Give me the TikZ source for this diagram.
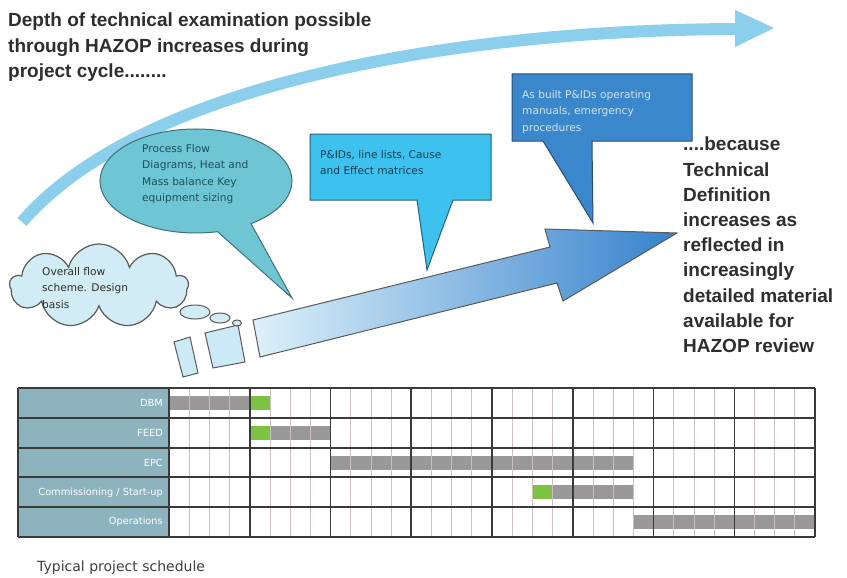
\documentclass[tikz,border=0pt]{standalone}
\usepackage{fontspec}
\setmainfont{Liberation Sans}
\newfontfamily\calloutfont{DejaVu Sans}
\usetikzlibrary{shapes.symbols,shapes.callouts,shapes.geometric}

\definecolor{textgray}{HTML}{2E2E2E}
\definecolor{curveblue}{HTML}{8BCFEC}
\definecolor{cloudfill}{HTML}{D2ECF5}
\definecolor{cloudline}{HTML}{5A5A5A}
\definecolor{pfdfill}{HTML}{6EC5D3}
\definecolor{pfdline}{HTML}{3F6F78}
\definecolor{pfdtext}{HTML}{1E4F5C}
\definecolor{pidfill}{HTML}{3DC2EF}
\definecolor{pidline}{HTML}{2A5F7A}
\definecolor{pidtext}{HTML}{173B4F}
\definecolor{asbfill}{HTML}{3A87CC}
\definecolor{asbline}{HTML}{284E73}
\definecolor{asbtext}{HTML}{D2E4F4}
\definecolor{arrowpale}{HTML}{DDF1FA}
\definecolor{arrowmid}{HTML}{9CCFF0}
\definecolor{arrowdark}{HTML}{3682CC}
\definecolor{stubfill}{HTML}{CBE9F6}
\definecolor{labelfill}{HTML}{8DB3BF}
\definecolor{bargray}{HTML}{9A9898}
\definecolor{bargreen}{HTML}{7DC242}
\definecolor{gridminor}{HTML}{CBC0BD}
\definecolor{gridmajor}{HTML}{3A3A3A}
\definecolor{captiongray}{HTML}{404040}

\begin{document}
\begin{tikzpicture}[x=1pt, y=-1pt,
    headline/.style={anchor=north west, align=left, inner sep=0pt, text=textgray,
        font=\bfseries\fontsize{19}{25.2}\selectfont},
    calltext/.style={anchor=north west, align=left, inner sep=0pt,
        font=\calloutfont\fontsize{10.6}{16.4}\selectfont},
    bubble/.style={ellipse, draw=cloudline, fill=cloudfill, line width=1pt, inner sep=0pt},
    stub/.style={draw=cloudline, fill=stubfill, line width=1pt},
    rowlabel/.style={anchor=east, text=white, inner sep=0pt,
        font=\calloutfont\fontsize{9.8}{11}\selectfont},
    minorline/.style={draw=gridminor, line width=0.8pt},
    majorline/.style={draw=gridmajor, line width=1.6pt},
    rowline/.style={draw=gridmajor, line width=2pt}
]
    \useasboundingbox[fill=white] (0,0) rectangle (847,578);

    % Heading
    \node[headline] (heading) at (8,13) {Depth of technical examination possible\\through HAZOP increases during\\project cycle........};

    % Curved arrow
    \coordinate (curvestart) at (22,222);
    \coordinate (curveend) at (737,29);
    \draw[curveblue, line width=12pt] (curvestart) .. controls (140,85) and (450,30) .. (curveend);
    \fill[curveblue] (735,10) -- (774,28) -- (735,47) -- cycle;

    % Explanation
    \node[headline] (because) at (683,137) {....because\\Technical\\Definition\\increases as\\reflected in\\increasingly\\detailed material\\available for\\HAZOP review};

    % Big arrow and stubs
    \shade[draw=cloudline, line width=1pt, left color=arrowpale, middle color=arrowmid, right color=arrowdark]
        (253,320) -- (550,247) -- (545,229) -- (677,233) -- (563,301) -- (557,283) -- (260,357) -- cycle;
    \draw[stub] (174,342) -- (190,337) -- (198,373) -- (183,377) -- cycle;
    \draw[stub] (205,333) -- (238,325) -- (245,362) -- (213,368) -- cycle;

    % Cloud
    \node[cloud, cloud puffs=9, aspect=2.1, draw=cloudline, fill=cloudfill, line width=1.2pt,
        minimum width=178pt, minimum height=84pt] (basis) at (99,286) {};
    \node[calltext, text=textgray] (basistext) at (42,267) {Overall flow\\scheme. Design\\basis};
    \node[bubble, minimum width=30pt, minimum height=14pt] (bub1) at (195,312) {};
    \node[bubble, minimum width=20pt, minimum height=10pt] (bub2) at (220,318) {};
    \node[bubble, minimum width=9pt, minimum height=6pt] (bub3) at (237,323) {};

    % Ellipse callout
    \node[ellipse callout, draw=pfdline, fill=pfdfill, line width=1pt,
        minimum width=192pt, minimum height=104pt, callout pointer arc=22,
        callout absolute pointer={(292,298)}] (pfd) at (196,181) {};
    \node[calltext, text=pfdtext] (pfdtext) at (142,144) {Process Flow\\Diagrams, Heat and\\Mass balance Key\\equipment sizing};

    % P&ID callout
    \draw[draw=pidline, fill=pidfill, line width=1pt]
        (310,134) -- (491,134) -- (491,200) -- (453,200) -- (427,270) -- (417,200) -- (310,200) -- cycle;
    \node[calltext, text=pidtext] (pidtext) at (320,150) {P\&IDs, line lists, Cause\\and Effect matrices};

    % As built callout
    \draw[draw=asbline, fill=asbfill, line width=1pt]
        (512,74) -- (692,74) -- (692,141) -- (592,141) -- (593,223) -- (543,141) -- (512,141) -- cycle;
    \node[calltext, text=asbtext] (asbtext) at (522,90) {As built P\&IDs operating\\manuals, emergency\\procedures};

    % Schedule
    \fill[labelfill] (18,388) rectangle (169,537);
    \foreach \r/\a/\b in {0/0/4, 1/5/8, 2/8/23, 3/19/23, 4/23/32}
        \fill[bargray] ({169+\a*20.19},{396+\r*29.8}) rectangle ({169+\b*20.19},{410+\r*29.8});
    \foreach \r/\a in {0/4, 1/4, 3/18}
        \fill[bargreen] ({169+\a*20.19},{396+\r*29.8}) rectangle ({169+(\a+1)*20.19},{410+\r*29.8});
    \foreach \i in {1,...,31}
        \draw[minorline] ({169+\i*20.19},388) -- ({169+\i*20.19},537);
    \foreach \i in {0,4,...,32}
        \draw[majorline] ({169+\i*20.19},388) -- ({169+\i*20.19},537);
    \foreach \j in {0,...,5}
        \draw[rowline] (18,{388+\j*29.8}) -- (815,{388+\j*29.8});
    \draw[rowline] (18,388) -- (18,537);
    \foreach \j/\lbl in {0/DBM, 1/FEED, 2/EPC, 3/{Commissioning / Start-up}, 4/Operations}
        \node[rowlabel] (lbl\j) at (163,{403+\j*29.8}) {\lbl};

    \node[anchor=base west, inner sep=0pt, text=captiongray, font=\calloutfont\fontsize{14}{16}\selectfont]
        (caption) at (37,571) {Typical project schedule};
\end{tikzpicture}
\end{document}
